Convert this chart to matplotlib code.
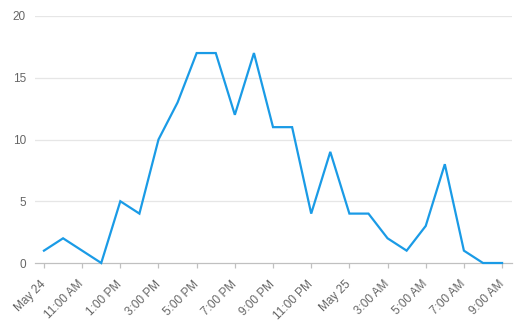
import matplotlib
matplotlib.use("Agg")
import matplotlib.pyplot as plt

# hourly counts, May 24 ~9 AM through May 25 ~9 AM
counts = [1, 2, 1, 0, 5, 4, 10, 13, 17, 17, 12, 17, 11, 11, 4, 9, 4, 4, 2, 1, 3, 8, 1, 0, 0]
tick_labels = ["May 24", "11:00 AM", "1:00 PM", "3:00 PM", "5:00 PM", "7:00 PM",
               "9:00 PM", "11:00 PM", "May 25", "3:00 AM", "5:00 AM", "7:00 AM", "9:00 AM"]
y_ticks = [0, 5, 10, 15, 20]

plt.rcParams['font.family'] = ['Liberation Sans', 'DejaVu Sans']

fig = plt.figure(figsize=(5.19, 3.27), dpi=100)
ax = fig.add_axes([35 / 519, 1 - 263 / 327, 477 / 519, 247 / 327])

hours = list(range(len(counts)))
ax.plot(hours, counts, color='#1a9be6', lw=1.6, solid_joinstyle='miter', clip_on=False, zorder=3)

ax.set_xlim(-0.47, 24.52)
ax.set_ylim(0, 20)

ax.set_yticks(y_ticks)
ax.set_yticklabels([str(v) for v in y_ticks])
for v in y_ticks[1:]:
    ax.axhline(v, color='#e6e6e6', lw=0.9, zorder=1)

ax.set_xticks(hours[::2])
ax.set_xticklabels(tick_labels, rotation=45, ha='right', va='center', rotation_mode='anchor')

for s in ['top', 'right', 'left']:
    ax.spines[s].set_visible(False)
ax.spines['bottom'].set_color('#c0c0c0')
ax.spines['bottom'].set_linewidth(0.9)

ax.tick_params(axis='x', length=3.5, color='#c0c0c0', width=0.9, labelsize=8.5,
               labelcolor='#666666', pad=10.5)
ax.tick_params(axis='y', length=0, labelsize=8.5, labelcolor='#666666', pad=6.5)

fig.savefig('out.png', dpi=100)
